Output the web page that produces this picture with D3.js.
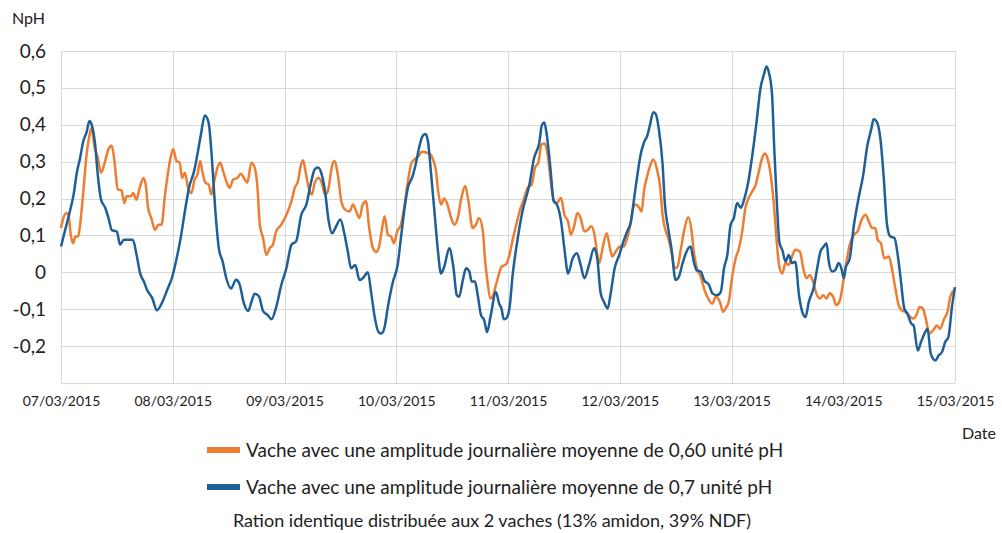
<!DOCTYPE html>
<html>
<head>
<meta charset="utf-8">
<script src="https://cdn.jsdelivr.net/npm/d3@7"></script>
<style>
  body { margin: 0; background: #fff; }
  svg { font-family: Lato, "Open Sans", sans-serif; }
</style>
</head>
<body>
<div id="chart"></div>
<script>
// NpH over 8 days, [hours since 07/03/2015 00:00, value]
const orangeData = [
  [0,0.12],[0.5,0.147],[1.2,0.161],[1.6,0.156],[2.1,0.102],[2.6,0.079],[3.1,0.097],[3.7,0.097],[4.1,0.129],[4.8,0.22],
  [5.5,0.32],[6.1,0.37],[6.6,0.393],[7.1,0.347],[7.9,0.31],[8.6,0.27],[9.3,0.293],[10.2,0.334],[10.9,0.343],[11.4,0.31],
  [12.2,0.225],[13,0.222],[13.6,0.188],[14.1,0.206],[15,0.206],[15.5,0.215],[16.2,0.197],[16.9,0.229],[17.7,0.256],[18.2,0.238],
  [18.7,0.175],[19.4,0.147],[20.2,0.115],[20.9,0.129],[21.6,0.129],[22.3,0.206],[23.4,0.302],[24.1,0.334],[24.8,0.302],[25.5,0.297],
  [26,0.256],[26.6,0.27],[27.3,0.229],[28,0.215],[28.7,0.252],[29.3,0.265],[29.9,0.302],[30.4,0.27],[31,0.243],[31.7,0.238],
  [32.3,0.211],[32.9,0.247],[33.6,0.284],[34.2,0.297],[34.8,0.275],[35.5,0.247],[36.2,0.229],[37,0.252],[37.9,0.256],[38.6,0.267],
  [39.3,0.256],[40,0.243],[40.9,0.297],[41.6,0.284],[42.2,0.229],[42.7,0.129],[43.4,0.093],[44.1,0.047],[44.8,0.065],[45.5,0.075],
  [46.2,0.111],[47.3,0.129],[48.4,0.156],[49.5,0.193],[50.2,0.229],[50.9,0.247],[51.4,0.284],[52,0.304],[52.5,0.275],[53.2,0.229],
  [53.9,0.211],[54.5,0.243],[55.3,0.256],[56,0.243],[56.7,0.211],[57.3,0.22],[58.2,0.288],[58.7,0.302],[59.5,0.261],[60.2,0.193],
  [61,0.17],[62,0.165],[62.7,0.184],[63.4,0.165],[64.1,0.147],[64.8,0.184],[65.5,0.193],[66.2,0.12],[67,0.065],[67.7,0.055],
  [68.4,0.075],[68.9,0.115],[69.5,0.152],[70.2,0.102],[70.9,0.097],[71.5,0.079],[72.2,0.111],[73,0.129],[73.8,0.184],[74.5,0.247],
  [75.3,0.297],[76.3,0.31],[76.8,0.315],[77.5,0.327],[78.4,0.325],[79.3,0.32],[80,0.302],[80.5,0.279],[81,0.22],[81.6,0.184],
  [82.3,0.2],[83,0.184],[83.8,0.147],[84.5,0.129],[85.2,0.147],[86,0.202],[86.8,0.234],[87.5,0.193],[88.4,0.12],[89.1,0.129],
  [89.8,0.147],[90.6,0.111],[91.1,0.029],[91.6,-0.025],[92.2,-0.071],[92.7,-0.066],[93.2,-0.044],[93.8,-0.016],[94.6,0.015],[95.6,0.022],
  [96.3,0.047],[97,0.088],[97.7,0.125],[98.6,0.17],[99.5,0.202],[100.2,0.229],[101.1,0.238],[101.8,0.284],[102.5,0.297],[103.2,0.347],
  [103.9,0.349],[104.5,0.32],[105.1,0.256],[105.8,0.197],[106.5,0.188],[107.4,0.202],[108.1,0.156],[108.9,0.138],[109.5,0.102],[110.2,0.125],
  [110.9,0.161],[111.6,0.147],[112.4,0.111],[113.1,0.115],[113.9,0.125],[114.6,0.1],[115.1,0.056],[115.6,0.025],[116.3,0.065],[117.2,0.106],
  [117.9,0.065],[118.4,0.043],[119.1,0.056],[120.1,0.07],[120.9,0.07],[121.6,0.093],[122.4,0.138],[122.9,0.175],[123.4,0.184],[124.2,0.175],
  [124.7,0.165],[125.2,0.22],[125.9,0.261],[126.5,0.288],[127.2,0.306],[127.9,0.284],[128.7,0.229],[129.2,0.156],[129.7,0.12],[130.4,0.093],
  [131.1,0.056],[131.8,0.011],[132.4,0.015],[133.1,0.061],[133.8,0.111],[134.7,0.149],[135.4,0.115],[135.9,0.056],[136.7,0.006],[137.4,-0.012],
  [138.1,-0.044],[138.8,-0.066],[139.9,-0.085],[140.6,-0.066],[141.5,-0.08],[142.2,-0.107],[142.9,-0.094],[143.4,-0.08],[144.2,-0.007],[144.9,0.038],
  [145.6,0.065],[146.3,0.111],[147,0.175],[147.7,0.202],[148.5,0.22],[149.2,0.238],[149.9,0.275],[150.6,0.31],[151.1,0.322],[151.7,0.31],
  [152.4,0.265],[153.1,0.185],[153.7,0.085],[154.2,0.02],[154.9,-0.003],[155.6,0.025],[156.3,0.02],[157,0.043],[157.7,0.061],[158.7,0.056],
  [159.4,0.011],[160.1,-0.016],[160.8,-0.007],[161.5,-0.025],[162.2,-0.057],[163,-0.071],[163.7,-0.062],[164.4,-0.071],[165.1,-0.057],[165.8,-0.066],
  [166.5,-0.089],[167.3,-0.075],[168,-0.025],[168.7,0.029],[169.4,0.075],[170.3,0.102],[171.1,0.111],[171.8,0.138],[172.8,0.156],[173.5,0.138],
  [174.2,0.12],[174.9,0.12],[175.4,0.088],[176.1,0.079],[176.8,0.038],[177.8,0.043],[178.5,0.006],[179.2,-0.044],[179.9,-0.089],[180.6,-0.103],
  [181.3,-0.107],[182,-0.116],[183,-0.125],[183.7,-0.116],[184.4,-0.094],[185.1,-0.098],[185.8,-0.13],[186.5,-0.166],[187.3,-0.157],[188.1,-0.144],
  [188.8,-0.153],[189.7,-0.125],[190.4,-0.107],[191,-0.066],[192,-0.045]
];

const blueData = [
  [0,0.07],[0.9,0.115],[1.9,0.165],[2.7,0.21],[3.4,0.27],[4.1,0.31],[4.8,0.356],[5.5,0.38],[6.1,0.41],[6.6,0.4],
  [7.3,0.35],[7.9,0.265],[8.6,0.197],[9.5,0.175],[10.2,0.147],[10.9,0.115],[12,0.11],[12.7,0.075],[13.5,0.088],[14.5,0.088],
  [15.4,0.088],[16.3,0.043],[17,-0.003],[17.8,-0.025],[18.5,-0.048],[19.6,-0.07],[20.6,-0.103],[21.6,-0.085],[22.8,-0.048],[23.9,-0.012],
  [24.7,0.03],[25.7,0.093],[26.6,0.165],[27.5,0.23],[28.6,0.275],[29.3,0.32],[30,0.37],[30.9,0.425],[31.7,0.406],[32.4,0.31],
  [33.1,0.175],[33.9,0.065],[34.7,0.03],[35.5,-0.016],[36.5,-0.044],[37.6,-0.02],[38.3,-0.03],[39.3,-0.085],[40.2,-0.105],[40.9,-0.08],
  [41.6,-0.058],[42.5,-0.065],[43.4,-0.105],[44.4,-0.116],[45.2,-0.127],[46.2,-0.095],[47.3,-0.035],[48.4,0.011],[49.5,0.075],[50.5,0.084],
  [51.6,0.156],[52.7,0.184],[53.6,0.238],[54.5,0.279],[55.2,0.284],[56,0.265],[56.7,0.22],[57.5,0.138],[58.2,0.106],[59.1,0.125],
  [60,0.143],[60.9,0.102],[61.6,0.056],[62.3,0.011],[63.2,0.02],[64.1,-0.021],[64.8,-0.016],[65.9,0],[66.6,-0.053],[67.3,-0.116],
  [68.2,-0.162],[68.8,-0.166],[69.5,-0.148],[70.2,-0.094],[71.3,-0.025],[72.3,0.02],[73,0.093],[73.9,0.184],[74.5,0.229],[75.5,0.26],
  [76.3,0.3],[77,0.343],[77.7,0.37],[78.3,0.375],[78.8,0.356],[79.5,0.265],[80.2,0.165],[80.9,0.065],[81.6,-0.003],[82.3,0.015],
  [83.4,0.065],[84.3,0.011],[85,-0.062],[85.5,-0.066],[86.3,-0.021],[87,0.011],[87.7,0.002],[88.2,-0.025],[88.9,-0.025],[89.5,-0.062],
  [90.2,-0.116],[90.9,-0.13],[91.5,-0.162],[92.3,-0.116],[93.4,-0.053],[94.1,-0.085],[94.6,-0.098],[95.1,-0.127],[95.6,-0.125],[96.3,-0.098],
  [97,-0.007],[98.1,0.093],[99.1,0.165],[100.6,0.238],[101.6,0.31],[102.7,0.35],[103.3,0.4],[103.8,0.406],[104.3,0.375],[105.1,0.284],
  [105.8,0.193],[106.5,0.184],[107.4,0.138],[108.1,0.065],[108.9,-0.003],[109.9,0.038],[110.8,0.052],[111.6,0.02],[112.4,-0.016],[113.4,0.02],
  [114.5,0.065],[115.2,0.035],[115.9,-0.057],[116.6,-0.08],[117.4,-0.098],[118.1,-0.053],[118.9,0.011],[119.9,0.047],[120.8,0.084],[121.6,0.111],
  [122.4,0.138],[123.1,0.202],[123.8,0.265],[124.5,0.32],[125.2,0.352],[125.9,0.37],[126.5,0.4],[127.2,0.434],[127.7,0.43],[128.4,0.388],
  [129.2,0.293],[129.7,0.184],[130.4,0.12],[131.1,0.065],[132,-0.021],[132.7,-0.012],[133.4,0.02],[134.2,0.052],[135.2,0.07],[135.9,0.029],
  [136.5,0.006],[137.4,0.002],[138.1,-0.021],[139.2,-0.035],[139.9,-0.057],[140.9,-0.062],[141.7,-0.053],[142.4,0.011],[143.1,0.047],[143.8,0.129],
  [144.5,0.147],[145.2,0.188],[146,0.175],[146.7,0.197],[147.5,0.238],[148.5,0.32],[149.4,0.41],[150.2,0.497],[151,0.538],[151.5,0.558],
  [152,0.543],[152.7,0.484],[153.2,0.33],[153.7,0.2],[154.3,0.08],[154.9,0.061],[155.6,0.029],[156.3,0.047],[157,0.025],[157.7,0.029],
  [158.5,-0.062],[159.2,-0.107],[159.9,-0.121],[160.6,-0.08],[161.7,-0.039],[162.4,0.011],[163.1,0.056],[163.8,0.07],[164.4,0.079],[164.9,0.029],
  [165.6,0.002],[166.3,0.006],[167,0.025],[167.6,0.011],[168.1,-0.016],[168.5,0.011],[169.4,0.038],[170.3,0.129],[171.3,0.202],[172.3,0.265],
  [173.1,0.338],[174.1,0.393],[174.5,0.415],[175.1,0.41],[176,0.36],[176.7,0.256],[177.4,0.129],[178.1,0.097],[179,0.093],[179.7,0.047],
  [180.4,-0.025],[181.1,-0.098],[181.8,-0.112],[182.6,-0.139],[183.1,-0.144],[184,-0.212],[184.7,-0.189],[185.6,-0.162],[186.1,-0.153],[186.8,-0.221],
  [187.8,-0.239],[188.5,-0.225],[189.2,-0.216],[189.9,-0.189],[190.6,-0.175],[191.3,-0.098],[192,-0.04]
];

const dayTicks = ["2015-03-07","2015-03-08","2015-03-09","2015-03-10","2015-03-11","2015-03-12","2015-03-13","2015-03-14","2015-03-15"];
const yTicks = [-0.2, -0.1, 0, 0.1, 0.2, 0.3, 0.4, 0.5, 0.6];
const yGrid = [-0.3, -0.2, -0.1, 0, 0.1, 0.2, 0.3, 0.4, 0.5, 0.6];
const legendLabels = [
  "Vache avec une amplitude journalière moyenne de 0,60 unité pH",
  "Vache avec une amplitude journalière moyenne de 0,7 unité pH"
];
const noteText = "Ration identique distribuée aux 2 vaches (13% amidon, 39% NDF)";

const W = 1002, H = 533;
const ORANGE = "#ed7d31", BLUE = "#1f5f98", GRID = "#d9d9d9";

const svg = d3.select("#chart").append("svg")
  .attr("width", W).attr("height", H)
  .style("background", "#fff");

const t0 = new Date(2015, 2, 7);
const hourToDate = h => new Date(t0.getTime() + h * 3600e3);
const parseDay = d3.timeParse("%Y-%m-%d");

const x = d3.scaleTime()
  .domain([t0, hourToDate(192)])
  .range([61, 955]);
const y = d3.scaleLinear()
  .domain([-0.3, 0.6])
  .range([383, 51]);

// gridlines
svg.append("g").selectAll("line").data(yGrid).join("line")
  .attr("x1", 61).attr("x2", 955)
  .attr("y1", d => Math.round(y(d)) + 0.5).attr("y2", d => Math.round(y(d)) + 0.5)
  .attr("stroke", GRID).attr("stroke-width", 1);
svg.append("g").selectAll("line").data(dayTicks).join("line")
  .attr("x1", d => Math.round(x(parseDay(d))) + 0.5).attr("x2", d => Math.round(x(parseDay(d))) + 0.5)
  .attr("y1", y(0.6)).attr("y2", y(-0.3))
  .attr("stroke", GRID).attr("stroke-width", 1);

// axes (labels only)
const fmtY = v => v === 0 ? "0" : d3.format(".1f")(v).replace(".", ",").replace("\u2212", "-");
const yAxis = svg.append("g")
  .attr("transform", "translate(46,0)")
  .call(d3.axisLeft(y).tickValues(yTicks).tickFormat(fmtY).tickSize(0).tickPadding(0));
yAxis.select(".domain").remove();
yAxis.selectAll("text")
  .attr("font-family", "Lato, 'Open Sans', sans-serif")
  .attr("font-size", 19).attr("fill", "#222");

const xAxis = svg.append("g")
  .attr("transform", "translate(0,396)")
  .call(d3.axisBottom(x).tickValues(dayTicks.map(parseDay))
    .tickFormat(d3.timeFormat("%d/%m/%Y")).tickSize(0).tickPadding(0));
xAxis.select(".domain").remove();
xAxis.selectAll("text")
  .attr("font-family", "Lato, 'Open Sans', sans-serif")
  .attr("font-size", 14).attr("fill", "#222");

svg.append("text").attr("x", 12).attr("y", 24)
  .attr("font-size", 16).attr("fill", "#222").text("NpH");
svg.append("text").attr("x", 996).attr("y", 439).attr("text-anchor", "end")
  .attr("font-size", 16).attr("fill", "#222").text("Date");

// series
const line = d3.line()
  .x(d => x(hourToDate(d[0])))
  .y(d => y(d[1]))
  .curve(d3.curveMonotoneX);

[[orangeData, ORANGE], [blueData, BLUE]].forEach(([data, color]) => {
  svg.append("path")
    .datum(data)
    .attr("fill", "none")
    .attr("stroke", color)
    .attr("stroke-width", 2.5)
    .attr("stroke-linejoin", "round")
    .attr("d", line);
});

// legend
const legend = svg.append("g");
[ORANGE, BLUE].forEach((c, i) => {
  const ly = 450 + i * 37;
  legend.append("rect")
    .attr("x", 207).attr("y", ly - 3).attr("width", 33).attr("height", 6)
    .attr("fill", c);
  legend.append("text")
    .attr("x", 246).attr("y", ly).attr("dy", "0.35em")
    .attr("font-size", 19).attr("fill", "#222")
    .text(legendLabels[i]);
});
legend.append("text")
  .attr("x", 492).attr("y", 521).attr("dy", "0.35em")
  .attr("text-anchor", "middle")
  .attr("font-size", 18).attr("fill", "#222")
  .text(noteText);
</script>
</body>
</html>
